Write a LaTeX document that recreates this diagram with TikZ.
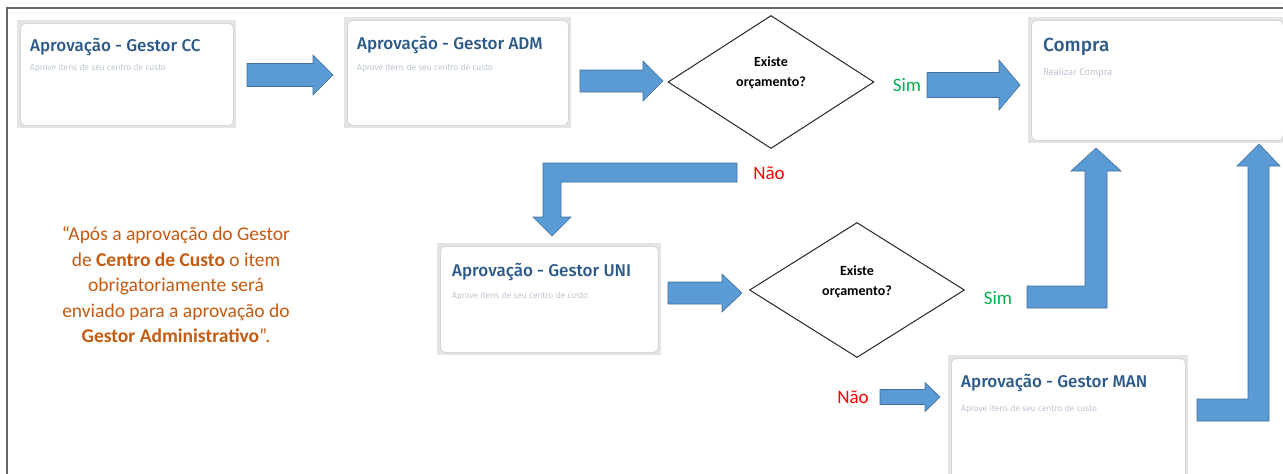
\documentclass[tikz,border=0pt]{standalone}
\usepackage{fontspec}
\setmainfont{Carlito}
\newfontfamily\titlefont{Fira Sans Medium}
\newfontfamily\subfont{Fira Sans Light}
\usetikzlibrary{shapes.geometric}
\definecolor{arrowfill}{HTML}{5B9BD5}
\definecolor{arrowline}{HTML}{41719C}
\definecolor{titleblue}{HTML}{2B5A8A}
\definecolor{subgrey}{HTML}{9CA9BE}
\definecolor{shadowgrey}{HTML}{E4E4E4}
\definecolor{edgegrey}{HTML}{D6D6D6}
\definecolor{noteorange}{HTML}{C55A11}
\definecolor{simgreen}{HTML}{00B050}
\definecolor{naored}{HTML}{FF0000}
\tikzset{
  card/.style={fill=white, draw=edgegrey, line width=0.8pt, rounded corners=5pt,
    inner sep=0pt, anchor=north west},
  cardtitle/.style={anchor=west, inner sep=0pt, text=titleblue,
    font=\titlefont\fontsize{17}{19}\selectfont},
  cardsub/.style={anchor=west, inner sep=0pt, text=subgrey,
    font=\subfont\fontsize{8.5}{10}\selectfont},
  decision/.style={diamond, draw=black!85, line width=1pt, fill=white,
    inner sep=0pt},
  decisiontext/.style={align=center, inner sep=0pt,
    font=\bfseries\fontsize{14}{20}\selectfont},
  blockarrow/.style={fill=arrowfill, draw=arrowline, line width=0.6pt},
  simlabel/.style={text=simgreen, inner sep=0pt, font=\fontsize{19}{22}\selectfont},
  naolabel/.style={text=naored, inner sep=0pt, font=\fontsize{19}{22}\selectfont},
}
% grey mat behind a card: outer corners given
\newcommand\cardmat[4]{\fill[shadowgrey] (#1,#2) rectangle (#3,#4);}
% straight block arrow: x-start, x-tip, y-centre, shaft half, head half, head length
\newcommand\rightblock[6]{%
  \draw[blockarrow] (#1,#3-#4) -- (#2-#6,#3-#4) -- (#2-#6,#3-#5) -- (#2,#3)
    -- (#2-#6,#3+#5) -- (#2-#6,#3+#4) -- (#1,#3+#4) -- cycle;}
\begin{document}
\begin{tikzpicture}[x=1pt, y=-1pt]
\useasboundingbox (0,0) rectangle (1283,474);
\fill[white] (0,0) rectangle (1283,474);

% outer frame (left and top edges)
\draw[black!60, line width=1.3pt] (7,474) -- (7,8) -- (1283,8);

% ---- cards ----
\cardmat{17}{20}{236}{128}
\node[card, minimum width=213pt, minimum height=102pt] (cc) at (20,23) {};
\node[cardtitle] at ([shift={(10,24)}]cc.north west) {Aprovação - Gestor CC};
\node[cardsub] at ([shift={(10,45)}]cc.north west) {Aprove itens de seu centro de custo};

\cardmat{344}{17}{571}{128}
\node[card, minimum width=221pt, minimum height=105pt] (adm) at (347,20) {};
\node[cardtitle] at ([shift={(10,25)}]adm.north west) {Aprovação - Gestor ADM};
\node[cardsub] at ([shift={(10,48)}]adm.north west) {Aprove itens de seu centro de custo};

\cardmat{1028}{17}{1283}{143}
\node[card, minimum width=252pt, minimum height=120pt] (compra) at (1031,20) {};
\node[cardtitle, font=\titlefont\fontsize{19}{21}\selectfont]
  at ([shift={(12,27)}]compra.north west) {Compra};
\node[cardsub, font=\subfont\fontsize{9.6}{11}\selectfont]
  at ([shift={(12,53)}]compra.north west) {Realizar Compra};

\cardmat{437}{243}{661}{355}
\node[card, minimum width=218pt, minimum height=106pt] (uni) at (440,246) {};
\node[cardtitle] at ([shift={(12,26)}]uni.north west) {Aprovação - Gestor UNI};
\node[cardsub] at ([shift={(12,50)}]uni.north west) {Aprove itens de seu centro de custo};

\cardmat{948}{355}{1188}{474}
\node[card, minimum width=234pt, minimum height=125pt] (man) at (951,358) {};
\node[cardtitle] at ([shift={(10,25)}]man.north west) {Aprovação - Gestor MAN};
\node[cardsub] at ([shift={(10,51)}]man.north west) {Aprove itens de seu centro de custo};

% ---- decisions ----
\node[decision, minimum width=206pt, minimum height=133pt] (d1) at (771,82) {};
\node[decisiontext] at ([yshift=9]d1.center) {Existe\\orçamento?};
\node[decision, minimum width=215pt, minimum height=135pt] (d2) at (857,290) {};
\node[decisiontext] at ([yshift=8]d2.center) {Existe\\orçamento?};

% ---- labels ----
\node[simlabel] (sim1) at (907,85) {Sim};
\node[naolabel] (nao1) at (769,173) {Não};
\node[simlabel] (sim2) at (998,298) {Sim};
\node[naolabel] (nao2) at (853,397) {Não};

% ---- straight block arrows ----
\rightblock{247}{333}{75}{11.5}{20}{20}
\rightblock{580}{663}{81}{11}{20}{20}
\rightblock{927}{1020}{85}{12.5}{25}{21}
\rightblock{668}{742}{293}{11}{19}{20}
\rightblock{880}{940}{397}{7.5}{14.5}{15}

% ---- bent block arrows ----
\draw[blockarrow] (737,163) -- (543,163) -- (543,217) -- (533,217) -- (552,236)
  -- (571,217) -- (561,217) -- (561,182) -- (737,182) -- cycle;
\draw[blockarrow] (1027,286) -- (1085,286) -- (1085,171) -- (1071,171) -- (1096,148)
  -- (1121,171) -- (1107,171) -- (1107,308) -- (1027,308) -- cycle;
\draw[blockarrow] (1197,399) -- (1248,399) -- (1248,166) -- (1237,166) -- (1259,144)
  -- (1280,166) -- (1269,166) -- (1269,421) -- (1197,421) -- cycle;

% ---- note ----
\node[align=center, text=noteorange, inner sep=0pt,
  font=\fontsize{19.5}{25.5}\selectfont] (note) at (176,285)
  {“Após a aprovação do Gestor\\
   de \textbf{Centro de Custo} o item\\
   obrigatoriamente será\\
   enviado para a aprovação do\\
   \textbf{Gestor Administrativo}”.};
\end{tikzpicture}
\end{document}
